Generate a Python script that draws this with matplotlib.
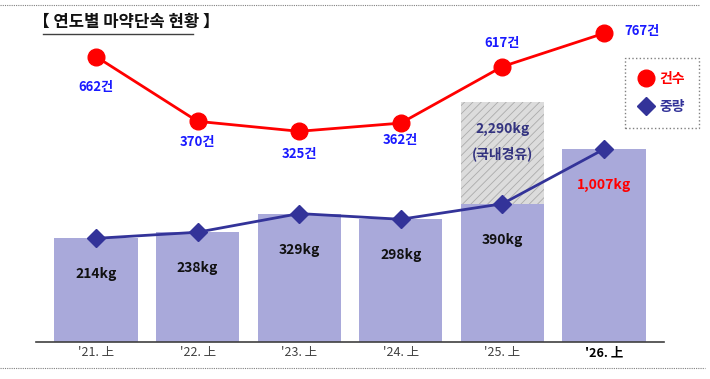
import numpy as np
import matplotlib
matplotlib.use('Agg')
import matplotlib.pyplot as plt
from matplotlib.lines import Line2D

# ---- data ----
categories = ["'21. 上", "'22. 上", "'23. 上", "'24. 上", "'25. 上", "'26. 上"]
cases = [662, 370, 325, 362, 617, 767]
weights_kg = [214, 238, 329, 298, 390, 1007]
transit_kg_2025 = 2290
case_labels = [f"{c}건" for c in cases]
weight_labels = [f"{w:,}kg" for w in weights_kg]

plt.rcParams['font.family'] = ['Noto Sans CJK KR', 'DejaVu Sans']
plt.rcParams['hatch.linewidth'] = 0.6

fig = plt.figure(figsize=(7.1, 3.79), dpi=100)
ax = fig.add_axes([36 / 710, 37 / 379, 628 / 710, 332 / 379])
x = np.arange(len(categories))

# weight axis (log scale, chart is not drawn to linear scale)
ax.set_yscale('log')
ax.set_ylim(35.4, 11270)
ax.set_xlim(-0.59, 5.59)
bar_w = 0.82
ax.bar(x, weights_kg, width=bar_w, color='#A9A9DA', zorder=1)
ax.bar(x[4], transit_kg_2025 - weights_kg[4], bottom=weights_kg[4], width=bar_w,
       facecolor='#DCDCDC', edgecolor='#ABABAB', hatch='////', linewidth=0, zorder=1)
ax.plot(x, weights_kg, color='#333399', lw=2, marker='D', ms=9, zorder=3)

for i, (w, lab) in enumerate(zip(weights_kg, weight_labels)):
    col = '#FF0000' if i == len(weights_kg) - 1 else '#111111'
    ax.annotate(lab, (x[i], w), xytext=(0, -36), textcoords='offset pixels',
                ha='center', va='center', fontsize=10, fontweight='bold', color=col, zorder=4)

ax.annotate(f"{transit_kg_2025:,}kg", (x[4], transit_kg_2025), xytext=(0, -27),
            textcoords='offset pixels', ha='center', va='center', fontsize=10,
            fontweight='bold', color='#333380')
ax.annotate("(국내경유)", (x[4], transit_kg_2025), xytext=(0, -52),
            textcoords='offset pixels', ha='center', va='center', fontsize=10,
            fontweight='bold', color='#333380')

# cases axis
ax2 = ax.twinx()
ax2.set_ylim(-625, 872)
ax2.set_xlim(ax.get_xlim())
ax2.plot(x, cases, color='#FF0000', lw=2, marker='o', ms=12, zorder=5)
case_offsets = [(0, -30), (0, -21), (0, -23), (0, -17), (0, 24), (38, 2)]
for i, (c, lab) in enumerate(zip(cases, case_labels)):
    ax2.annotate(lab, (x[i], c), xytext=case_offsets[i], textcoords='offset pixels',
                 ha='center', va='center', fontsize=9.5, fontweight='bold', color='#1A1AFF')
ax2.set_axis_off()

for s in ['top', 'right', 'left']:
    ax.spines[s].set_visible(False)
ax.spines['bottom'].set_color('#404040')
ax.spines['bottom'].set_linewidth(1.2)
ax.tick_params(axis='y', which='both', left=False, right=False,
               labelleft=False, labelright=False)
ax.set_xticks(x, categories)
ax.tick_params(axis='x', length=0, pad=3, labelsize=9, labelcolor='#404040')
last = ax.get_xticklabels()[-1]
last.set_fontweight('bold')
last.set_color('#000000')

# title
fig.text(33 / 710, 1 - 22 / 379, "【 연도별 마약단속 현황 】", fontsize=12,
         fontweight='bold', va='center', ha='left', color='#111111')
fig.add_artist(Line2D([43 / 710, 193 / 710], [1 - 34 / 379] * 2, color='#404040', lw=1))

# dotted frame lines
fig.add_artist(Line2D([0, 700 / 710], [1 - 5 / 379] * 2, ls=(0, (1, 1)), color='#808080', lw=0.8))
fig.add_artist(Line2D([0, 705 / 710], [1 - 368 / 379] * 2, ls=(0, (1, 1)), color='#808080', lw=0.8))

# legend
handles = [Line2D([], [], color='#FF0000', marker='o', ms=12, ls='none'),
           Line2D([], [], color='#333399', marker='D', ms=9, ls='none')]
leg = fig.legend(handles, ['건수', '중량'], loc='upper right',
                 bbox_to_anchor=(699 / 710, 1 - 58 / 379), frameon=True, fancybox=False,
                 edgecolor='#606060', handlelength=1, handletextpad=0.5, borderpad=1.0,
                 labelspacing=1.0, fontsize=10, borderaxespad=0)
leg.get_frame().set_linestyle(':')
leg.get_frame().set_linewidth(1)
for t, c in zip(leg.get_texts(), ['#FF0000', '#333399']):
    t.set_color(c)
    t.set_fontweight('bold')

fig.savefig('out.png', dpi=100)
